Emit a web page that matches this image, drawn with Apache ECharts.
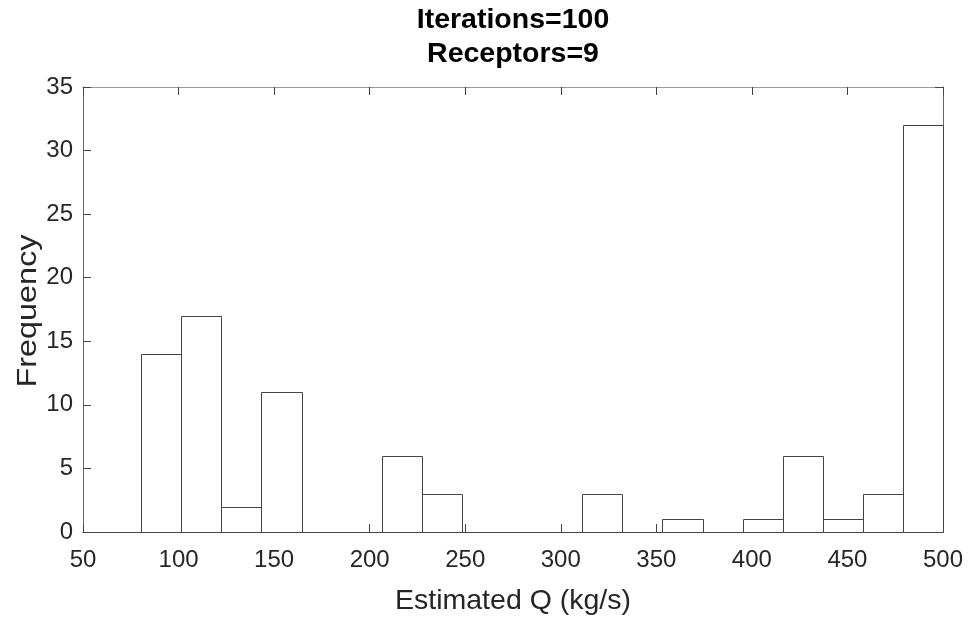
<!DOCTYPE html>
<html>
<head>
<meta charset="utf-8">
<script src="https://cdn.jsdelivr.net/npm/echarts@6/dist/echarts.min.js"></script>
<style>html,body{margin:0;padding:0;background:#fff;}#c{width:974px;height:628px;}</style>
</head>
<body>
<div id="c"></div>
<script>
var titleLines = ['Iterations=100', 'Receptors=9'];
var xName = 'Estimated Q (kg/s)';
var yName = 'Frequency';
var binEdges = [80.5, 101.5, 122.4, 143.4, 164.4, 185.4, 206.4, 227.3, 248.3, 269.3, 290.3, 311.2, 332.2, 353.2, 374.2, 395.1, 416.1, 437.1, 458.1, 479.0, 500];
var counts = [14, 17, 2, 11, 0, 0, 6, 3, 0, 0, 0, 3, 0, 1, 0, 1, 6, 1, 3, 32];
var xTicks = [50, 100, 150, 200, 250, 300, 350, 400, 450, 500];
var yTicks = [0, 5, 10, 15, 20, 25, 30, 35];

var data = [];
for (var i = 0; i < counts.length; i++) {
  if (counts[i] > 0) data.push([binEdges[i], binEdges[i + 1], counts[i]]);
}
var FONT = '"Liberation Sans", Arial, Helvetica, sans-serif';
var TXT = '#262626';
var chart = echarts.init(document.getElementById('c'), null, {renderer: 'canvas'});
function axisBase(lineColor) {
  return {
    axisLine: {show: true, onZero: false, lineStyle: {color: lineColor, width: 1}},
    axisTick: {show: true, inside: true, length: 8, lineStyle: {color: '#444'}},
    splitLine: {show: false}
  };
}
chart.setOption({
  animation: false,
  backgroundColor: '#fff',
  title: {
    text: titleLines.join('\n'),
    left: 513, top: 3, padding: 0, textAlign: 'center',
    textStyle: {fontFamily: FONT, fontWeight: 'bold', fontSize: 28.5, lineHeight: 34, color: '#000'}
  },
  grid: {left: 83, right: 31, top: 87, bottom: 96},
  xAxis: [
    Object.assign(axisBase('#444'), {
      type: 'value', min: xTicks[0], max: xTicks[xTicks.length - 1], interval: 50,
      name: xName, nameLocation: 'middle', nameGap: 55,
      nameTextStyle: {fontFamily: FONT, fontSize: 28.5, color: TXT},
      axisLabel: {fontFamily: FONT, fontSize: 24, color: TXT, margin: 16}
    }),
    Object.assign(axisBase('#999'), {
      type: 'value', position: 'top', min: xTicks[0], max: xTicks[xTicks.length - 1], interval: 50,
      axisLabel: {show: false}
    })
  ],
  yAxis: [
    Object.assign(axisBase('#666'), {
      type: 'value', min: yTicks[0], max: yTicks[yTicks.length - 1], interval: 5,
      axisLabel: {fontFamily: FONT, fontSize: 24, color: TXT, margin: 10}
    }),
    Object.assign(axisBase('#666'), {
      type: 'value', position: 'right', min: yTicks[0], max: yTicks[yTicks.length - 1], interval: 5,
      axisLabel: {show: false}
    })
  ],
  graphic: [{
    type: 'text',
    x: 29, y: 311,
    rotation: Math.PI / 2,
    scaleX: 1.2,
    style: {text: yName, fontFamily: FONT, fontSize: 27, fill: TXT, align: 'center', verticalAlign: 'middle'}
  }],
  series: [{
    type: 'custom',
    xAxisIndex: 0, yAxisIndex: 0,
    data: data,
    encode: {x: [0, 1], y: 2},
    renderItem: function (params, api) {
      var p0 = api.coord([api.value(0), 0]);
      var p1 = api.coord([api.value(1), api.value(2)]);
      return {
        type: 'rect',
        shape: {x: Math.round(p0[0]) + 0.5, y: Math.round(p1[1]) + 0.5, width: Math.round(p1[0]) - Math.round(p0[0]), height: Math.round(p0[1]) - Math.round(p1[1])},
        style: {fill: '#fff', stroke: '#444', lineWidth: 1}
      };
    }
  }]
});
</script>
</body>
</html>
